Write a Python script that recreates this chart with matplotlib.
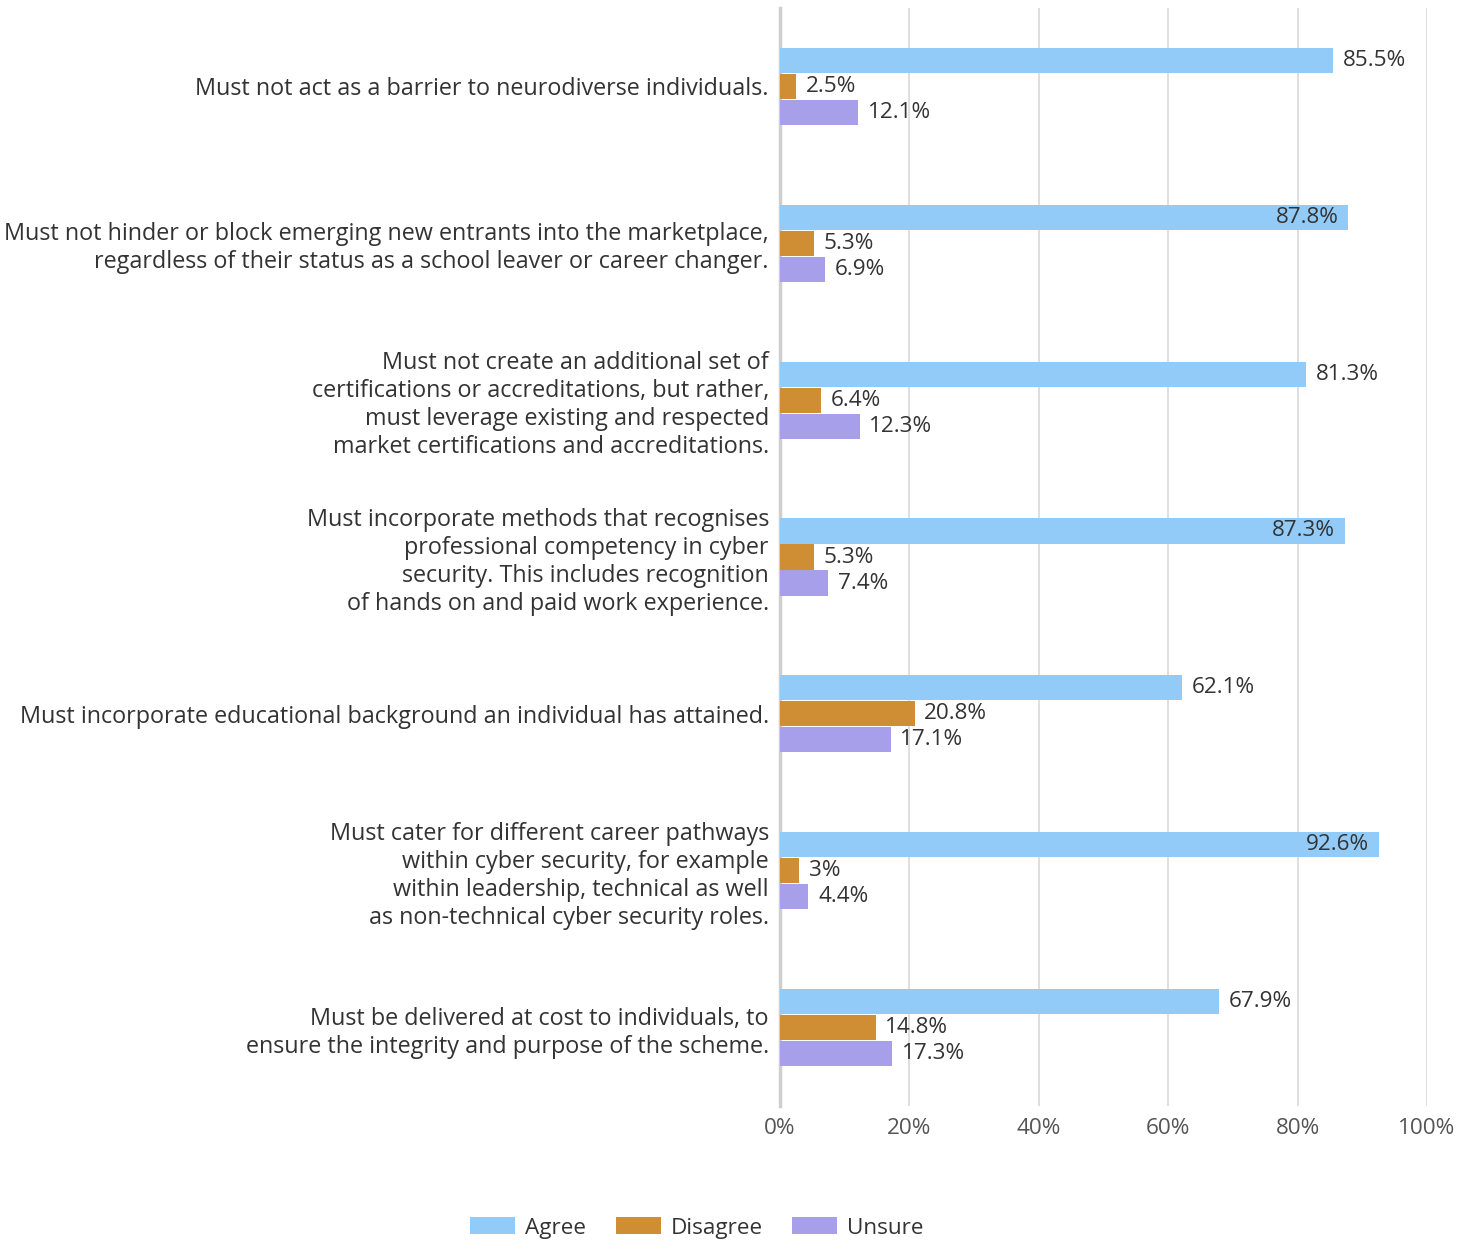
import matplotlib.pyplot as plt
import numpy as np
from matplotlib.patches import Patch

categories = [
    "Must not act as a barrier to neurodiverse individuals.",
    "Must not hinder or block emerging new entrants into the marketplace,\nregardless of their status as a school leaver or career changer.",
    "Must not create an additional set of\ncertifications or accreditations, but rather,\nmust leverage existing and respected\nmarket certifications and accreditations.",
    "Must incorporate methods that recognises\nprofessional competency in cyber\nsecurity. This includes recognition\nof hands on and paid work experience.",
    "Must incorporate educational background an individual has attained.",
    "Must cater for different career pathways\nwithin cyber security, for example\nwithin leadership, technical as well\nas non-technical cyber security roles.",
    "Must be delivered at cost to individuals, to\nensure the integrity and purpose of the scheme.",
]
agree = [85.5, 87.8, 81.3, 87.3, 62.1, 92.6, 67.9]
disagree = [2.5, 5.3, 6.4, 5.3, 20.8, 3, 14.8]
unsure = [12.1, 6.9, 12.3, 7.4, 17.1, 4.4, 17.3]
series_names = ["Agree", "Disagree", "Unsure"]
colors = ["#92cbf7", "#d08e34", "#a79fea"]
xticks = [0, 20, 40, 60, 80, 100]

plt.rcParams['font.family'] = ['Open Sans', 'DejaVu Sans']
text_color = "#333333"
fs = 16.2
cat_fs = 16.8

fig = plt.figure(figsize=(14.74, 12.41), dpi=100)
ax = fig.add_axes([780 / 1474, 1 - 1106 / 1241, (1427 - 780) / 1474, (1106 - 8) / 1241])

y = np.arange(len(categories))
h = 0.16
step = 0.166
for i, (vals, col) in enumerate(zip([agree, disagree, unsure], colors)):
    pos = y + (i - 1) * step
    ax.barh(pos, vals, height=h, color=col, zorder=3)
    for p, v in zip(pos, vals):
        txt = f"{v:g}%"
        if v > 86:
            ax.text(v - 1.5, p, txt, ha="right", va="center", fontsize=fs,
                    color=text_color, zorder=4)
        else:
            ax.text(v + 1.5, p, txt, ha="left", va="center", fontsize=fs,
                    color=text_color, zorder=4)

ax.set_xlim(0, 100)
ax.set_ylim(len(categories) - 0.5, -0.5)
ax.set_xticks(xticks)
ax.set_xticklabels([f"{t}%" for t in xticks], fontsize=fs, color="#555555")
ax.set_yticks(y)
ax.set_yticklabels(categories, fontsize=cat_fs, color=text_color, linespacing=1.22)
ax.tick_params(axis="both", length=0)
ax.tick_params(axis="x", pad=9)
ax.tick_params(axis="y", pad=8)
ax.xaxis.grid(True, color="#d9d9d9", linewidth=1.2, zorder=0)
for s in ["top", "right", "bottom"]:
    ax.spines[s].set_visible(False)
ax.spines["left"].set_color("#cfcfcf")
ax.spines["left"].set_linewidth(2.5)

handles = [Patch(facecolor=c, label=n) for c, n in zip(colors, series_names)]
fig.legend(handles=handles, loc="center", bbox_to_anchor=(697 / 1474, 1 - 1228 / 1241),
           ncol=3, frameon=False, fontsize=fs, handlelength=2.0, handleheight=0.75,
           columnspacing=1.3, handletextpad=0.45, labelcolor=text_color)

fig.savefig("out.png", dpi=100)
